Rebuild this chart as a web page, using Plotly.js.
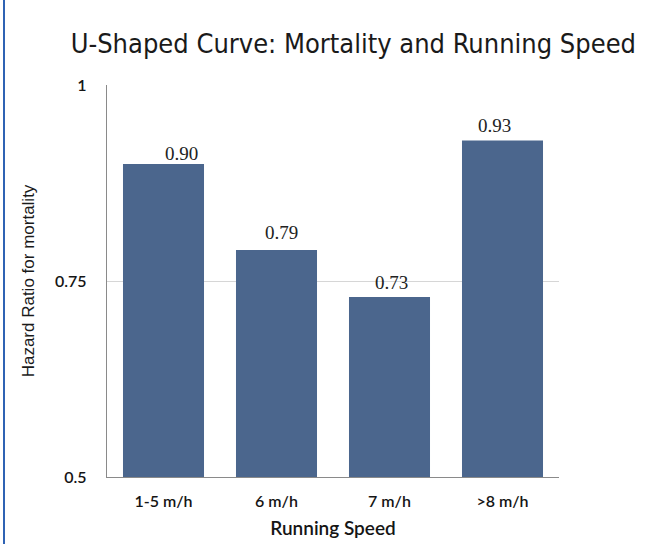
<!DOCTYPE html>
<html>
<head>
<meta charset="utf-8">
<script src="https://cdn.plot.ly/plotly-3.0.1.min.js"></script>
<style>
  html, body { margin: 0; padding: 0; background: #fff; }
  #wrap { position: relative; width: 662px; height: 544px; overflow: hidden; }
  #chart { position: absolute; left: 0; top: 0; width: 662px; height: 544px; }
  #edge { position: absolute; left: 3px; top: 0; width: 2px; height: 544px; background: #2f63b4; }
</style>
</head>
<body>
<div id="wrap">
  <div id="chart"></div>
  <div id="edge"></div>
</div>
<script>
// Running speed groups and the hazard ratio for mortality in each
const speeds = ['1-5 m/h', '6 m/h', '7 m/h', '>8 m/h'];
const hazardRatios = [0.90, 0.79, 0.73, 0.93];
const hazardLabels = ['0.90', '0.79', '0.73', '0.93'];

// y axis starts at 0.5; bars rise from that baseline
const baseline = 0.5;
const yTickVals = [0.5, 0.75, 1];
const yTickText = ['0.5', '0.75', '1'];

const barTrace = {
  type: 'bar',
  x: speeds,
  y: hazardRatios.map(v => v - baseline),
  base: baseline,
  marker: { color: '#4b668d', line: { width: 0 } },
  hoverinfo: 'skip'
};

// value labels sit above each bar, nudged a little sideways
const labelNudgeX = [18, 5, 2, -8];
const labelNudgeY = [11, 18, 15, 15];
const valueLabels = speeds.map((s, i) => ({
  x: s,
  y: hazardRatios[i],
  xref: 'x',
  yref: 'y',
  text: hazardLabels[i],
  showarrow: false,
  yanchor: 'middle',
  xanchor: 'center',
  xshift: labelNudgeX[i],
  yshift: labelNudgeY[i],
  font: { family: 'Liberation Serif, serif', size: 19, color: '#222' }
}));

const tickFont = { family: 'Lato, sans-serif', size: 16, color: '#151515', weight: 600 };

const layout = {
  width: 662,
  height: 544,
  margin: { l: 107, r: 103, t: 85, b: 67 },
  paper_bgcolor: '#fff',
  plot_bgcolor: '#fff',
  showlegend: false,
  bargap: 0.283,
  annotations: valueLabels,
  title: {
    text: 'U-Shaped Curve: Mortality and Running Speed',
    font: { family: 'DejaVu Sans Condensed, DejaVu Sans, sans-serif', size: 27, color: '#1a1a1a' },
    x: 0.545, xanchor: 'center', xref: 'paper',
    y: 0.92, yanchor: 'middle', yref: 'container'
  },
  xaxis: {
    type: 'category',
    showgrid: false,
    showline: true,
    linecolor: '#8a8a8a',
    linewidth: 1.3,
    ticks: '',
    ticklabelstandoff: 9,
    tickfont: tickFont,
    title: {
      text: 'Running Speed',
      font: { family: 'Lato, sans-serif', size: 19, color: '#151515', weight: 600 },
      standoff: 13
    },
    fixedrange: true
  },
  yaxis: {
    range: [baseline, 1.001],
    tickvals: yTickVals,
    ticktext: yTickText,
    showgrid: true,
    gridcolor: '#d6d6d6',
    gridwidth: 1,
    zeroline: false,
    showline: true,
    linecolor: '#8a8a8a',
    linewidth: 1.3,
    ticks: '',
    ticklabelstandoff: 16,
    tickfont: tickFont,
    title: {
      text: 'Hazard Ratio for mortality',
      font: { family: 'Liberation Sans Narrow, Liberation Sans, sans-serif', size: 17, color: '#1a1a1a' },
      standoff: 16
    },
    fixedrange: true
  }
};

Plotly.newPlot('chart', [barTrace], layout, { displayModeBar: false, staticPlot: true });
</script>
</body>
</html>
